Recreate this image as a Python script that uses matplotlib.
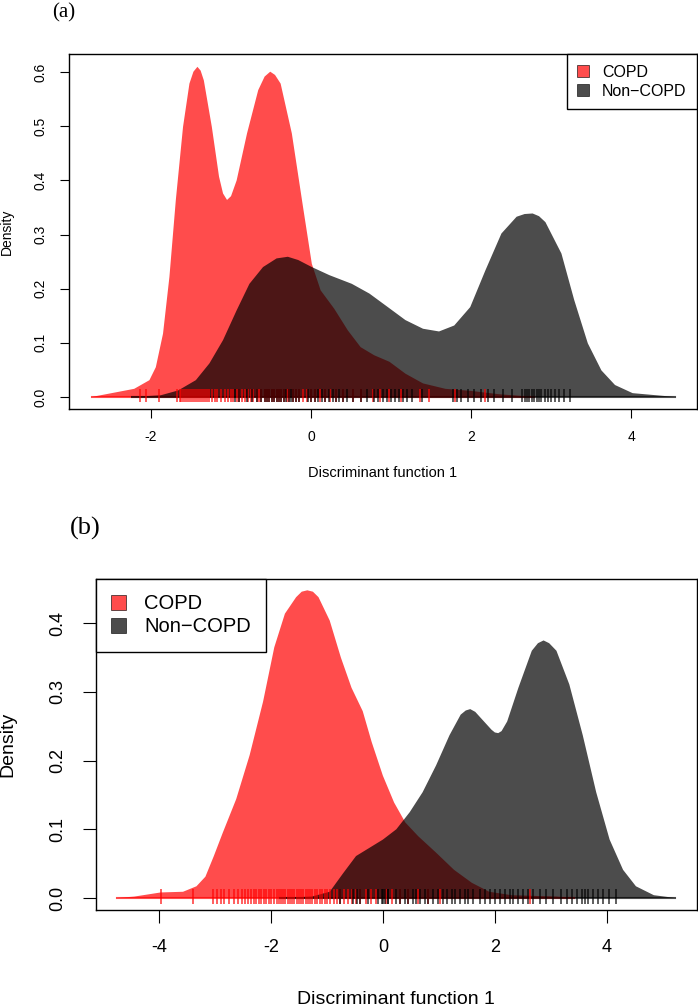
import matplotlib
matplotlib.use('Agg')
import matplotlib.pyplot as plt
from matplotlib.patches import Patch

plt.rcParams['font.family'] = ['Liberation Sans', 'DejaVu Sans']
plt.rcParams['axes.unicode_minus'] = False

# ---- panel (a) density curves ----
a_copd_x = [-2.74, -2.21, -2.02, -1.94, -1.85, -1.77, -1.69, -1.60, -1.52, -1.47, -1.42, -1.38,
            -1.34, -1.24, -1.15, -1.10, -1.05, -1.00, -0.93, -0.80, -0.66, -0.58, -0.51, -0.45,
            -0.38, -0.24, -0.10, 0.01, 0.12, 0.29, 0.46, 0.62, 0.79, 0.98, 1.18, 1.40, 1.68,
            2.01, 2.35, 2.79]
a_copd_y = [0.0, 0.015, 0.031, 0.055, 0.117, 0.222, 0.364, 0.499, 0.579, 0.601, 0.610, 0.603,
            0.585, 0.499, 0.407, 0.376, 0.364, 0.371, 0.400, 0.487, 0.567, 0.592, 0.601, 0.595,
            0.579, 0.487, 0.351, 0.246, 0.197, 0.163, 0.123, 0.092, 0.077, 0.065, 0.043, 0.025,
            0.015, 0.011, 0.005, 0.0]
a_non_x = [-2.24, -1.88, -1.66, -1.44, -1.27, -1.10, -0.93, -0.77, -0.60, -0.43, -0.29, -0.16,
           0.01, 0.23, 0.51, 0.73, 0.96, 1.18, 1.40, 1.60, 1.79, 1.99, 2.18, 2.38, 2.57, 2.67,
           2.77, 2.85, 2.93, 3.13, 3.29, 3.46, 3.63, 3.80, 4.02, 4.55]
a_non_y = [0.0, 0.003, 0.012, 0.031, 0.062, 0.105, 0.160, 0.209, 0.240, 0.256, 0.259, 0.253,
           0.240, 0.225, 0.209, 0.191, 0.166, 0.142, 0.126, 0.121, 0.132, 0.166, 0.234, 0.302,
           0.333, 0.338, 0.339, 0.334, 0.323, 0.265, 0.179, 0.099, 0.049, 0.022, 0.007, 0.0]
a_copd_rug = [-2.14, -2.06, -1.90, -1.68, -1.64, -1.62, -1.60, -1.57, -1.55, -1.52, -1.50, -1.47,
              -1.45, -1.43, -1.40, -1.38, -1.35, -1.32, -1.30, -1.27, -1.24, -1.20, -1.17, -1.13,
              -1.08, -1.04, -1.00, -0.97, -0.93, -0.90, -0.86, -0.82, -0.79, -0.75, -0.72, -0.68,
              -0.65, -0.62, -0.58, -0.55, -0.52, -0.49, -0.46, -0.43, -0.40, -0.37, -0.34, -0.30,
              -0.27, -0.23, -0.19, -0.15, -0.10, -0.05, 0.0, 0.05, 0.11, 0.18, 0.24, 0.31, 0.40,
              0.52, 0.63, 0.78, 0.86, 0.98, 1.12, 1.36, 1.48, 1.80, 2.17]
a_non_rug = [-0.95, -0.90, -0.80, -0.74, -0.68, -0.62, -0.58, -0.55, -0.52, -0.49, -0.46, -0.43,
             -0.40, -0.37, -0.34, -0.31, -0.28, -0.25, -0.22, -0.19, -0.15, -0.04, 0.0, 0.05,
             0.09, 0.14, 0.18, 0.22, 0.27, 0.31, 0.35, 0.40, 0.45, 0.53, 0.63, 0.70, 0.79, 0.84,
             0.90, 0.95, 1.00, 1.05, 1.10, 1.15, 1.20, 1.26, 1.39, 1.78, 1.83, 1.88, 1.96, 2.04,
             2.12, 2.21, 2.29, 2.40, 2.51, 2.64, 2.67, 2.70, 2.73, 2.76, 2.79, 2.82, 2.85, 2.88,
             2.92, 2.96, 3.00, 3.05, 3.10, 3.16, 3.24]

# ---- panel (b) ----
b_copd_x = [-4.75, -4.44, -3.97, -3.57, -3.33, -3.17, -3.02, -2.86, -2.62, -2.38, -2.14, -1.94,
            -1.75, -1.55, -1.45, -1.35, -1.25, -1.15, -0.95, -0.75, -0.56, -0.36, -0.20, 0.0,
            0.20, 0.40, 0.63, 0.95, 1.27, 1.59, 1.90, 2.30, 2.70, 3.10, 3.41]
b_copd_y = [0.0, 0.002, 0.008, 0.009, 0.017, 0.031, 0.061, 0.095, 0.144, 0.208, 0.286, 0.365,
            0.414, 0.438, 0.446, 0.448, 0.446, 0.438, 0.404, 0.350, 0.306, 0.272, 0.227, 0.178,
            0.139, 0.110, 0.090, 0.066, 0.041, 0.022, 0.009, 0.004, 0.003, 0.002, 0.0]
b_non_x = [-1.83, -1.27, -0.95, -0.71, -0.48, -0.24, 0.0, 0.24, 0.48, 0.71, 0.95, 1.19, 1.39,
           1.48, 1.56, 1.65, 1.75, 1.94, 2.00, 2.06, 2.12, 2.22, 2.42, 2.66, 2.77, 2.87, 2.97,
           3.10, 3.33, 3.57, 3.81, 4.05, 4.29, 4.52, 4.84, 5.22]
b_non_y = [0.0, 0.002, 0.009, 0.036, 0.061, 0.073, 0.085, 0.100, 0.125, 0.154, 0.193, 0.237,
           0.267, 0.273, 0.275, 0.271, 0.262, 0.245, 0.241, 0.240, 0.243, 0.257, 0.306, 0.360,
           0.371, 0.375, 0.371, 0.360, 0.311, 0.237, 0.154, 0.085, 0.041, 0.017, 0.004, 0.0]
b_copd_rug = [-3.97, -3.40, -3.04, -2.97, -2.90, -2.83, -2.74, -2.66, -2.58, -2.52, -2.46, -2.41,
              -2.36, -2.31, -2.26, -2.21, -2.17, -2.12, -2.08, -2.03, -1.99, -1.95, -1.90, -1.86,
              -1.82, -1.78, -1.74, -1.70, -1.66, -1.62, -1.58, -1.54, -1.50, -1.46, -1.42, -1.38,
              -1.34, -1.30, -1.26, -1.22, -1.18, -1.13, -1.09, -1.04, -0.99, -0.94, -0.88, -0.82,
              -0.76, -0.70, -0.63, -0.56, -0.48, -0.40, -0.31, -0.22, -0.12, 0.05, 0.16, 0.30,
              0.45, 0.62, 0.80, 1.02, 2.63]
b_non_rug = [-0.77, -0.54, -0.47, -0.40, -0.27, -0.09, 0.0, 0.09, -0.02, 0.04, 0.10, 0.24, 0.30,
             0.39, 0.45, 0.54, 0.60, 0.66, 0.75, 0.81, 0.90, 0.99, 1.08, 1.14, 1.23, 1.29, 1.38,
             1.46, 1.52, 1.61, 1.73, 1.82, 1.91, 2.00, 2.09, 2.18, 2.27, 2.33, 2.42, 2.51, 2.60,
             2.68, 2.80, 2.92, 3.04, 3.19, 3.28, 3.37, 3.46, 3.55, 3.61, 3.67, 3.76, 3.84, 3.93,
             4.04, 4.16]

labels = ['COPD', 'Non\u2212COPD']
red = (1, 0, 0)
black = (0, 0, 0)
alpha = 0.7


def paint_panel(ax, copd_x, copd_y, non_x, non_y, copd_rug, non_rug, xlim, ylim, xticks, yticks,
                fs, ticklen, pad, rug_lo, rug_hi):
    ax.fill(copd_x, copd_y, color=red, alpha=alpha, lw=0)
    ax.plot([copd_x[0], copd_x[-1]], [0, 0], color=red, alpha=alpha, lw=1.5)
    ax.fill(non_x, non_y, color=black, alpha=alpha, lw=0)
    ax.plot([non_x[0], non_x[-1]], [0, 0], color=black, alpha=alpha, lw=1.5)
    ax.vlines(copd_rug, rug_lo, rug_hi, color=red, alpha=0.8, lw=1.1)
    ax.vlines(non_rug, rug_lo, rug_hi, color=black, alpha=0.8, lw=1.1)

    ax.set_xlim(xlim)
    ax.set_ylim(ylim)
    ax.set_xticks(xticks)
    ax.set_yticks(yticks)
    ax.set_yticklabels(['%.1f' % t for t in yticks], rotation=90, va='center')
    ax.tick_params(direction='out', length=ticklen, width=0.8, labelsize=fs, pad=pad)
    for s in ax.spines.values():
        s.set_linewidth(1.0)


fig = plt.figure(figsize=(6.98, 10.07), dpi=100)

ax1 = fig.add_axes([0.0989, 0.594, 0.8997, 0.352])
paint_panel(ax1, a_copd_x, a_copd_y, a_non_x, a_non_y, a_copd_rug, a_non_rug,
            (-3.025, 4.825), (-0.022, 0.633), [-2, 0, 2, 4], [0.0, 0.1, 0.2, 0.3, 0.4, 0.5, 0.6],
            10, 6.5, 9, -0.009, 0.015)
handles = [Patch(facecolor=red, alpha=alpha, edgecolor='black', lw=0.6),
           Patch(facecolor=black, alpha=alpha, edgecolor='black', lw=0.6)]
leg = ax1.legend(handles, labels, loc='upper right', bbox_to_anchor=(1, 1), borderaxespad=0,
                 fontsize=11.5, fancybox=False, edgecolor='black', framealpha=1,
                 handlelength=0.75, handleheight=0.75, handletextpad=0.8, labelspacing=0.25,
                 borderpad=0.65)
leg.get_frame().set_linewidth(1.0)
fig.text(64 / 698, 1 - 13 / 1007, '(a)', family='Liberation Serif', fontsize=15,
         ha='center', va='center')
fig.text(7 / 698, 1 - 232 / 1007, 'Density', rotation=90, fontsize=10, ha='center', va='center')
fig.text(383 / 698, 1 - 473 / 1007, 'Discriminant function 1', fontsize=10.5,
         ha='center', va='center')

ax2 = fig.add_axes([0.1375, 0.0967, 0.861, 0.328])
paint_panel(ax2, b_copd_x, b_copd_y, b_non_x, b_non_y, b_copd_rug, b_non_rug,
            (-5.125, 5.61), (-0.017, 0.464), [-4, -2, 0, 2, 4], [0.0, 0.1, 0.2, 0.3, 0.4],
            13, 9.4, 12, -0.009, 0.013)
leg = ax2.legend(handles, labels, loc='upper left', bbox_to_anchor=(0, 1), borderaxespad=0,
                 fontsize=14.5, fancybox=False, edgecolor='black', framealpha=1,
                 handlelength=0.75, handleheight=0.75, handletextpad=0.9, labelspacing=0.2,
                 borderpad=0.75)
leg.get_frame().set_linewidth(1.0)
fig.text(85 / 698, 1 - 528 / 1007, '(b)', family='Liberation Serif', fontsize=19,
         ha='center', va='center')
fig.text(8 / 698, 1 - 744 / 1007, 'Density', rotation=90, fontsize=14, ha='center', va='center')
fig.text(396 / 698, 1 - 999 / 1007, 'Discriminant function 1', fontsize=14,
         ha='center', va='center')

fig.savefig('out.png', dpi=100)
